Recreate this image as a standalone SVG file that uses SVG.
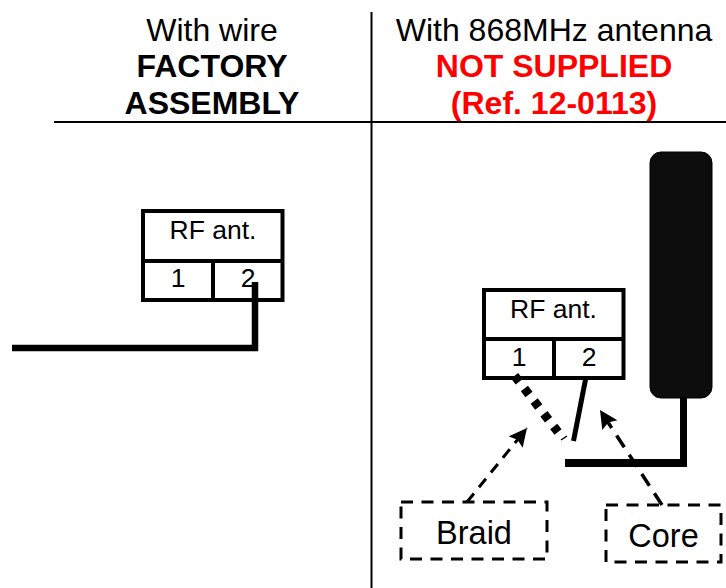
<svg xmlns="http://www.w3.org/2000/svg" width="726" height="588" viewBox="0 0 726 588">
<style>
text{font-family:"Liberation Sans",Arial,sans-serif;fill:#000;text-anchor:middle}
.h{font-size:32px}
.b{font-weight:bold}
.l{font-size:26.500px}
.t{font-size:32.500px}
.box{fill:none;stroke:#000;stroke-width:4}
.dr{fill:none;stroke:#000;stroke-width:3;stroke-dasharray:12 8.500}
.w{fill:none;stroke:#000;stroke-width:6.500}
</style>
<defs>
<marker id="a" markerUnits="userSpaceOnUse" markerWidth="20" markerHeight="20" refX="18" refY="9" orient="auto"><path d="M0 0L18 9L0 18L3 9Z" fill="#000"/></marker>
</defs>
<g id="header">
<text class="h" x="212" y="41">With wire</text>
<text class="h b" x="212" y="77">FACTORY</text>
<text class="h b" x="212" y="114">ASSEMBLY</text>
<text class="h" x="554" y="41">With 868MHz antenna</text>
<text class="h b" x="554" y="77" style="fill:#f00">NOT SUPPLIED</text>
<text class="h b" x="554" y="114" style="fill:#f00">(Ref. 12-0113)</text>
<path d="M54 122H726M371.500 12V588" stroke="#000" stroke-width="2" fill="none"/>
</g>
<g id="block-left">
<path class="box" d="M143 211H282.500V300H143ZM143 261H282.500M213 261V300"/>
<text class="l" x="213" y="239">RF ant.</text>
<text class="l" x="178" y="287">1</text>
<text class="l" x="248" y="287">2</text>
</g>
<g id="block-right">
<path class="box" d="M484 290H623.500V378H484ZM484 339H623.500M554 339V378"/>
<text class="l" x="553.500" y="318">RF ant.</text>
<text class="l" x="519" y="366">1</text>
<text class="l" x="589" y="366">2</text>
</g>
<g id="antenna">
<rect x="650" y="152" width="62" height="246" rx="11" fill="#0d0d0d" stroke="#000" stroke-width="1"/>
</g>
<g id="braid-label">
<rect class="dr" x="401" y="502" width="146" height="57"/>
<text class="t" x="474" y="544">Braid</text>
</g>
<g id="core-label">
<rect class="dr" x="606" y="505" width="115" height="57"/>
<text class="t" x="663.500" y="547">Core</text>
</g>
<g id="connectors">
<path class="w" d="M12 348H255V282"/>
<path d="M683.500 466V398" fill="none" stroke="#000" stroke-width="7"/>
<path d="M565 463H687" fill="none" stroke="#000" stroke-width="8"/>
<path d="M514 375L558 432" fill="none" stroke="#000" stroke-width="9" stroke-dasharray="7.500 8.500" stroke-dashoffset="-1"/>
<path d="M561 440L567 436" fill="none" stroke="#000" stroke-width="1.500"/>
<path d="M586 377L573.500 441" fill="none" stroke="#000" stroke-width="5"/>
<path d="M467 502L527 428" fill="none" stroke="#000" stroke-width="3" stroke-dasharray="11 8" marker-end="url(#a)"/>
<path d="M662 505L600 410" fill="none" stroke="#000" stroke-width="3.500" stroke-dasharray="14 9" marker-end="url(#a)"/>
</g>
</svg>
